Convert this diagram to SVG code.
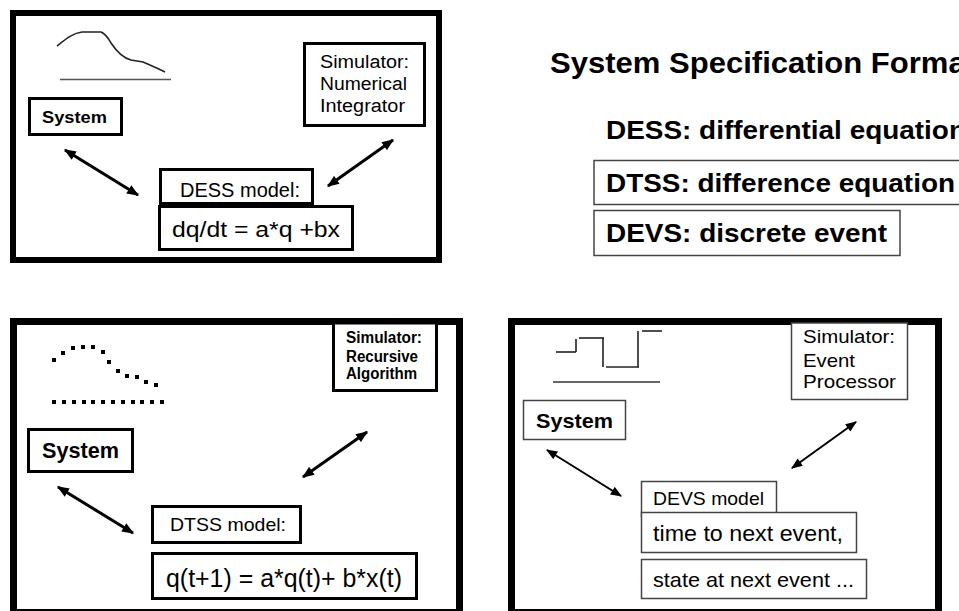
<svg xmlns="http://www.w3.org/2000/svg" width="959" height="611" viewBox="0 0 959 611">
  <style>
    text { font-family: "Liberation Sans", Arial, sans-serif; fill: #000; }
    .b { font-weight: bold; }
    .frame { fill: none; stroke: #000; }
    .box { fill: #fff; stroke: #000; stroke-width: 3; }
    .thin { fill: #fff; stroke: #444; stroke-width: 1.5; }
    .arrow { fill: none; stroke: #000; stroke-width: 3; marker-start: url(#head); marker-end: url(#head); }
    .arrow2 { fill: none; stroke: #000; stroke-width: 2; marker-start: url(#head2); marker-end: url(#head2); }
    .sig { fill: none; stroke: #222; stroke-width: 1.6; }
    .dots { fill: none; stroke: #000; stroke-width: 4; stroke-linecap: square; }
  </style>
  <defs>
    <marker id="head" viewBox="0 0 10 8" refX="9" refY="4" markerWidth="4.2" markerHeight="3.2" orient="auto-start-reverse" markerUnits="strokeWidth">
      <path d="M0,0 L10,4 L0,8 Z" fill="#000"/>
    </marker>
    <marker id="head2" viewBox="0 0 10 8" refX="9" refY="4" markerWidth="6" markerHeight="4.5" orient="auto-start-reverse" markerUnits="strokeWidth">
      <path d="M0,0 L10,4 L0,8 Z" fill="#000"/>
    </marker>
  </defs>

  <rect width="959" height="611" fill="#fff"/>

  <!-- Title and format list -->
  <g id="title">
    <text class="b" x="550" y="73" font-size="30" textLength="426" lengthAdjust="spacingAndGlyphs">System Specification Format</text>
  </g>
  <g id="fmt-dess">
    <text class="b" x="606" y="139" font-size="25" textLength="360" lengthAdjust="spacingAndGlyphs">DESS: differential equation</text>
  </g>
  <g id="fmt-dtss">
    <rect class="thin" x="594" y="160.5" width="380" height="44"/>
    <text class="b" x="606" y="192" font-size="25" textLength="349" lengthAdjust="spacingAndGlyphs">DTSS: difference equation</text>
  </g>
  <g id="fmt-devs">
    <rect class="thin" x="594" y="210.5" width="306" height="45"/>
    <text class="b" x="606" y="242" font-size="25" textLength="281" lengthAdjust="spacingAndGlyphs">DEVS: discrete event</text>
  </g>

  <!-- Panel frames -->
  <g id="panel-dess">
    <rect class="frame" x="13" y="13" width="426" height="247" stroke-width="6"/>
  </g>
  <g id="panel-dtss">
    <rect class="frame" x="13.5" y="321.5" width="446" height="291" stroke-width="7"/>
  </g>
  <g id="panel-devs">
    <rect class="frame" x="511.5" y="321.5" width="427" height="291" stroke-width="7"/>
  </g>

  <!-- Trajectory sketches -->
  <g id="dess-trajectory">
    <path class="sig" d="M57,46 C66,39 73,33 82,32 L101,32 C106,34 108,38 111,43 C117,52 123,58 131,60 L143,62 C150,65 157,68 165,72"/>
    <line x1="60" y1="79.5" x2="171" y2="79.5" stroke="#555" stroke-width="1.5"/>
  </g>
  <g id="dtss-trajectory">
    <path class="dots" d="M54,360h0 M63,353h0 M73,348h0 M83,347h0 M93,347h0 M103,352h0 M109,362h0 M118,371h0 M127,376h0 M137,377h0 M146,382h0 M156,385h0"/>
    <path class="dots" d="M54,402h0 M64,402h0 M74,402h0 M84,402h0 M93,402h0 M103,402h0 M113,402h0 M123,402h0 M133,402h0 M142,402h0 M152,402h0 M162,402h0"/>
  </g>
  <g id="devs-trajectory">
    <line class="sig" x1="556" y1="352" x2="576" y2="352"/>
    <line class="sig" x1="576" y1="352" x2="576" y2="339"/>
    <line class="sig" x1="579" y1="338" x2="604" y2="338"/>
    <line class="sig" x1="603" y1="338" x2="603" y2="367"/>
    <line class="sig" x1="606" y1="367" x2="639" y2="367"/>
    <line class="sig" x1="638" y1="367" x2="638" y2="331"/>
    <line class="sig" x1="642" y1="331" x2="662" y2="331"/>
    <line x1="553" y1="382" x2="660" y2="382" stroke="#333" stroke-width="1.5"/>
  </g>

  <!-- DESS panel nodes -->
  <g id="dess-system">
    <rect class="box" x="29.5" y="98.5" width="92" height="36"/>
    <text class="b" x="42" y="123" font-size="17" textLength="65" lengthAdjust="spacingAndGlyphs">System</text>
  </g>
  <g id="dess-simulator">
    <rect class="box" x="304.5" y="43.5" width="120" height="82"/>
    <text x="320" y="68" font-size="18" textLength="89" lengthAdjust="spacingAndGlyphs">Simulator:</text>
    <text x="320" y="90" font-size="18" textLength="87" lengthAdjust="spacingAndGlyphs">Numerical</text>
    <text x="320" y="112" font-size="18" textLength="85" lengthAdjust="spacingAndGlyphs">Integrator</text>
  </g>
  <g id="dess-model">
    <rect class="box" x="160.5" y="169.5" width="152" height="34"/>
    <text x="180" y="197" font-size="20" textLength="120" lengthAdjust="spacingAndGlyphs">DESS model:</text>
  </g>
  <g id="dess-equation">
    <rect class="box" x="159.5" y="206.5" width="193" height="43"/>
    <text x="172" y="237" font-size="22" textLength="168" lengthAdjust="spacingAndGlyphs">dq/dt = a*q +bx</text>
  </g>

  <!-- DTSS panel nodes -->
  <g id="dtss-system">
    <rect class="box" x="28.5" y="429.5" width="104" height="42"/>
    <text class="b" x="42" y="458" font-size="22" textLength="77" lengthAdjust="spacingAndGlyphs">System</text>
  </g>
  <g id="dtss-simulator">
    <rect class="box" x="333.5" y="323" width="103" height="67.5"/>
    <text class="b" x="346" y="343" font-size="16" textLength="76" lengthAdjust="spacingAndGlyphs">Simulator:</text>
    <text class="b" x="346" y="362" font-size="16" textLength="72" lengthAdjust="spacingAndGlyphs">Recursive</text>
    <text class="b" x="346" y="379" font-size="16" textLength="71" lengthAdjust="spacingAndGlyphs">Algorithm</text>
  </g>
  <g id="dtss-model">
    <rect class="box" x="152.5" y="506.5" width="148" height="36"/>
    <text x="170" y="531" font-size="19" textLength="116" lengthAdjust="spacingAndGlyphs">DTSS model:</text>
  </g>
  <g id="dtss-equation">
    <rect class="box" x="152.5" y="553.5" width="264" height="45"/>
    <text x="166" y="587" font-size="25" textLength="236" lengthAdjust="spacingAndGlyphs">q(t+1) = a*q(t)+ b*x(t)</text>
  </g>

  <!-- DEVS panel nodes -->
  <g id="devs-system">
    <rect class="thin" x="523.5" y="400.5" width="102" height="39"/>
    <text class="b" x="536" y="428" font-size="21" textLength="77" lengthAdjust="spacingAndGlyphs">System</text>
  </g>
  <g id="devs-simulator">
    <rect class="thin" x="791.5" y="323" width="116" height="76.5"/>
    <text x="803" y="343" font-size="19" textLength="92" lengthAdjust="spacingAndGlyphs">Simulator:</text>
    <text x="803" y="367" font-size="19" textLength="52" lengthAdjust="spacingAndGlyphs">Event</text>
    <text x="803" y="388" font-size="19" textLength="93" lengthAdjust="spacingAndGlyphs">Processor</text>
  </g>
  <g id="devs-model">
    <rect class="thin" x="641.5" y="481.5" width="135" height="35"/>
    <text x="653" y="505" font-size="19" textLength="111" lengthAdjust="spacingAndGlyphs">DEVS model</text>
  </g>
  <g id="devs-time">
    <rect class="thin" x="641.5" y="512.5" width="215" height="40"/>
    <text x="653" y="541" font-size="22" textLength="190" lengthAdjust="spacingAndGlyphs">time to next event,</text>
  </g>
  <g id="devs-state">
    <rect class="thin" x="641.5" y="559.5" width="225" height="39"/>
    <text x="653" y="587" font-size="21" textLength="201" lengthAdjust="spacingAndGlyphs">state at next event ...</text>
  </g>

  <!-- Connectors -->
  <g id="connectors">
    <line class="arrow" x1="65" y1="150" x2="138" y2="195"/>
    <line class="arrow" x1="393" y1="140" x2="328" y2="186"/>
    <line class="arrow" x1="58" y1="487" x2="133" y2="533"/>
    <line class="arrow" x1="367" y1="432" x2="303" y2="477"/>
    <line class="arrow2" x1="547" y1="450" x2="621" y2="496"/>
    <line class="arrow2" x1="856" y1="422" x2="792" y2="468"/>
  </g>
</svg>
